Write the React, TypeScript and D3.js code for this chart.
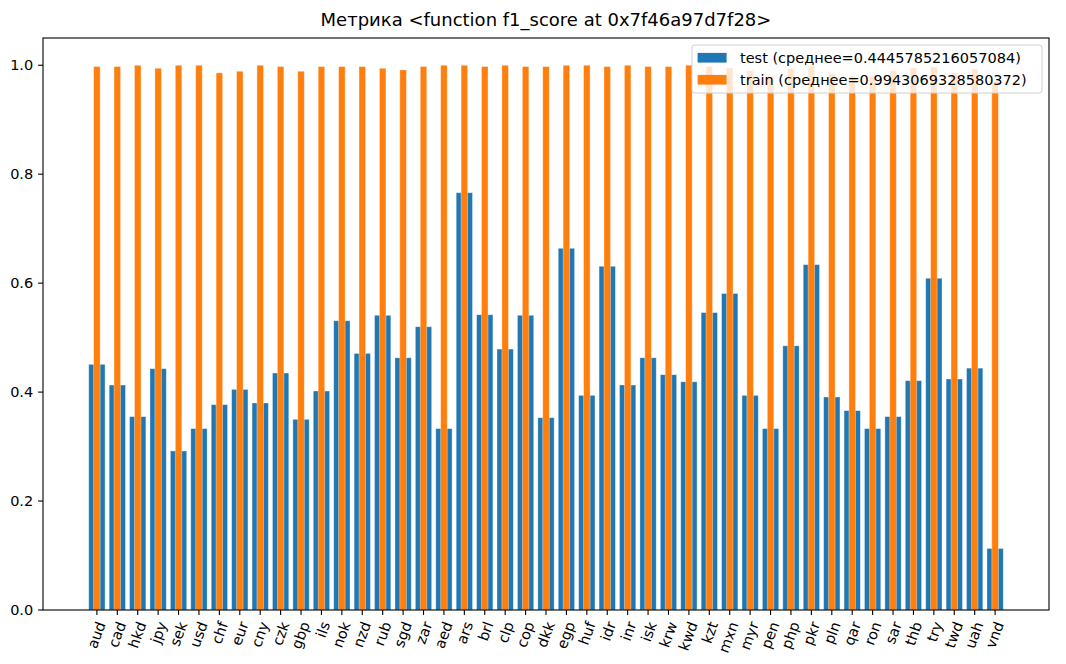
import React from "react";
import * as d3 from "d3";

const categories = ["aud","cad","hkd","jpy","sek","usd","chf","eur","cny","czk","gbp","ils","nok","nzd","rub","sgd","zar","aed","ars","brl","clp","cop","dkk","egp","huf","idr","inr","isk","krw","kwd","kzt","mxn","myr","pen","php","pkr","pln","qar","ron","sar","thb","try","twd","uah","vnd"];

const testValues = [0.451,0.413,0.355,0.443,0.292,0.333,0.377,0.405,0.380,0.435,0.350,0.402,0.531,0.471,0.541,0.463,0.520,0.333,0.766,0.542,0.479,0.541,0.353,0.664,0.394,0.631,0.413,0.463,0.432,0.419,0.546,0.581,0.394,0.333,0.485,0.634,0.391,0.366,0.333,0.355,0.421,0.609,0.424,0.444,0.113];

const trainValues = [0.9976,0.9976,1.0,0.9945,1.0,1.0,0.986,0.989,1.0,0.9976,0.989,0.9976,0.9976,0.9976,0.9945,0.9915,0.9976,1.0,1.0,0.9976,1.0,0.9976,0.9976,1.0,1.0,0.9976,1.0,0.9976,0.9976,1.0,0.998,0.995,0.99,0.98,0.994,0.998,0.985,0.98,0.98,0.99,0.995,0.997,0.986,0.993,0.97];

const yTicks = [0.0, 0.2, 0.4, 0.6, 0.8, 1.0];

const titleText = "Метрика <function f1_score at 0x7f46a97d7f28>";
const legendLabels = ["test (среднее=0.4445785216057084)", "train (среднее=0.9943069328580372)"];
const colors = ["#1f77b4", "#ff7f0e"];

export default function App() {
  const W = 1066, H = 664;
  const left = 43, right = 1049, top = 38, bottom = 610;
  const n = categories.length;
  const x = d3.scaleLinear().domain([-2.64, n - 1 + 2.64]).range([left, right]);
  const yMax = 1.05 * Math.max(...trainValues);
  const y = d3.scaleLinear().domain([0, yMax]).range([bottom, top]);
  const unit = x(1) - x(0);
  const wTest = 0.8 * unit;
  const wTrain = 0.32 * unit;
  const font = "DejaVu Sans, sans-serif";
  const fs = 14.5;

  return (
    <svg width={W} height={H} style={{ position: "absolute", left: 0, top: 0, background: "#fff" }} fontFamily={font}>
      <rect x={0} y={0} width={W} height={H} fill="#fff" />
      {testValues.map((v, i) => (
        <rect key={"t" + i} x={x(i) - wTest / 2} y={y(v)} width={wTest} height={y(0) - y(v)} fill={colors[0]} stroke="rgba(255,255,255,0.45)" strokeWidth={0.8} />
      ))}
      {trainValues.map((v, i) => (
        <rect key={"r" + i} x={x(i) - wTrain / 2} y={y(v)} width={wTrain} height={y(0) - y(v)} fill={colors[1]} stroke="rgba(255,255,255,0.45)" strokeWidth={0.8} />
      ))}
      <rect x={left} y={top} width={right - left} height={bottom - top} fill="none" stroke="#000" strokeWidth={1.1} />
      {yTicks.map((t) => (
        <g key={"y" + t}>
          <line x1={left - 4.9} x2={left} y1={y(t)} y2={y(t)} stroke="#000" strokeWidth={1.1} />
          <text x={left - 9.8} y={y(t)} fontSize={fs} textAnchor="end" dominantBaseline="central" fill="#000">{t.toFixed(1)}</text>
        </g>
      ))}
      {categories.map((c, i) => {
        const tx = x(i);
        const w = c.length * 0.58 * fs;
        const ax = tx + 0.171 * w;
        const ay = bottom + 9.8 + 0.171 * fs;
        return (
          <g key={"x" + c}>
            <line x1={tx} x2={tx} y1={bottom} y2={bottom + 4.9} stroke="#000" strokeWidth={1.1} />
            <text x={ax} y={ay} fontSize={fs} textAnchor="end" dominantBaseline="central" transform={`rotate(-70 ${ax} ${ay})`} fill="#000">{c}</text>
          </g>
        );
      })}
      <text x={(left + right) / 2} y={26} fontSize={18} textAnchor="middle" fill="#000">{titleText}</text>
      <g>
        <rect x={692} y={45} width={350} height={48} rx={3} ry={3} fill="rgba(255,255,255,0.8)" stroke="#d0d0d0" strokeWidth={1} />
        {legendLabels.map((l, i) => {
          const cy = 57.8 + i * 22;
          return (
            <g key={"l" + i}>
              <rect x={697.6} y={cy - 4.9} width={29} height={9.7} fill={colors[i]} />
              <text x={740} y={cy} fontSize={fs} dominantBaseline="central" fill="#000">{l}</text>
            </g>
          );
        })}
      </g>
    </svg>
  );
}
